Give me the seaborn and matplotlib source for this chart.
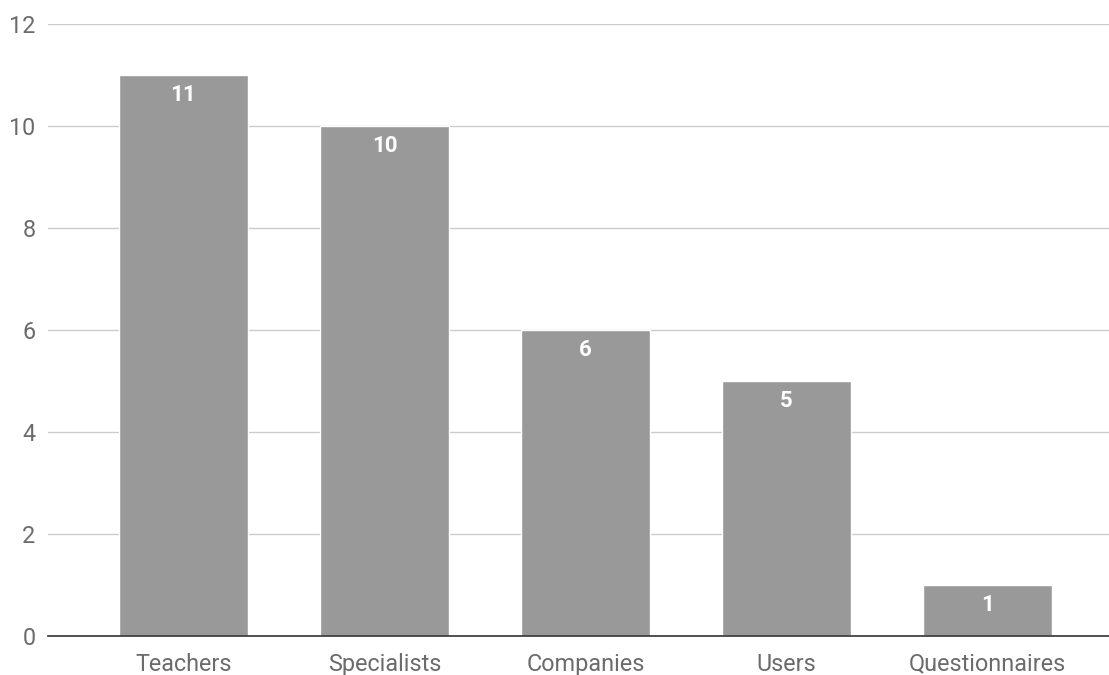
import matplotlib
matplotlib.use("Agg")
import matplotlib.pyplot as plt
import seaborn as sns
import pandas as pd

categories = ["Teachers", "Specialists", "Companies", "Users", "Questionnaires"]
values = [11, 10, 6, 5, 1]
yticks = [0, 2, 4, 6, 8, 10, 12]

sns.set_style("white")
plt.rcParams['font.family'] = ['Roboto', 'DejaVu Sans']

df = pd.DataFrame({"cat": categories, "val": values})

fig = plt.figure(figsize=(11.09, 6.75), dpi=100)
ax = fig.add_axes([0.0433, 0.0578, 0.9567, 0.9066])
sns.barplot(data=df, x="cat", y="val", color="#999999", saturation=1, width=0.64, ax=ax, zorder=3)

ax.set_xlim(-0.674, 4.605)
ax.set_ylim(0, 12)
ax.set_yticks(yticks)
ax.set_yticklabels([str(t) for t in yticks])
ax.grid(axis="y", color="#cccccc", linewidth=1, zorder=0)
ax.set_axisbelow(True)
for s in ["top", "right", "left"]:
    ax.spines[s].set_visible(False)
ax.spines["bottom"].set_color("#333333")
ax.spines["bottom"].set_linewidth(1.2)
ax.spines["bottom"].set_zorder(5)
ax.tick_params(axis="both", length=0, labelsize=16.8, colors="#6b6b6b")
ax.tick_params(axis="x", pad=12)
ax.tick_params(axis="y", pad=9)
ax.set_xlabel("")
ax.set_ylabel("")

for i, v in enumerate(values):
    ax.text(i, v - 0.4, str(v), ha="center", va="center", color="white",
            fontsize=16, fontweight="bold", zorder=6)

fig.savefig("out.png", dpi=100)
